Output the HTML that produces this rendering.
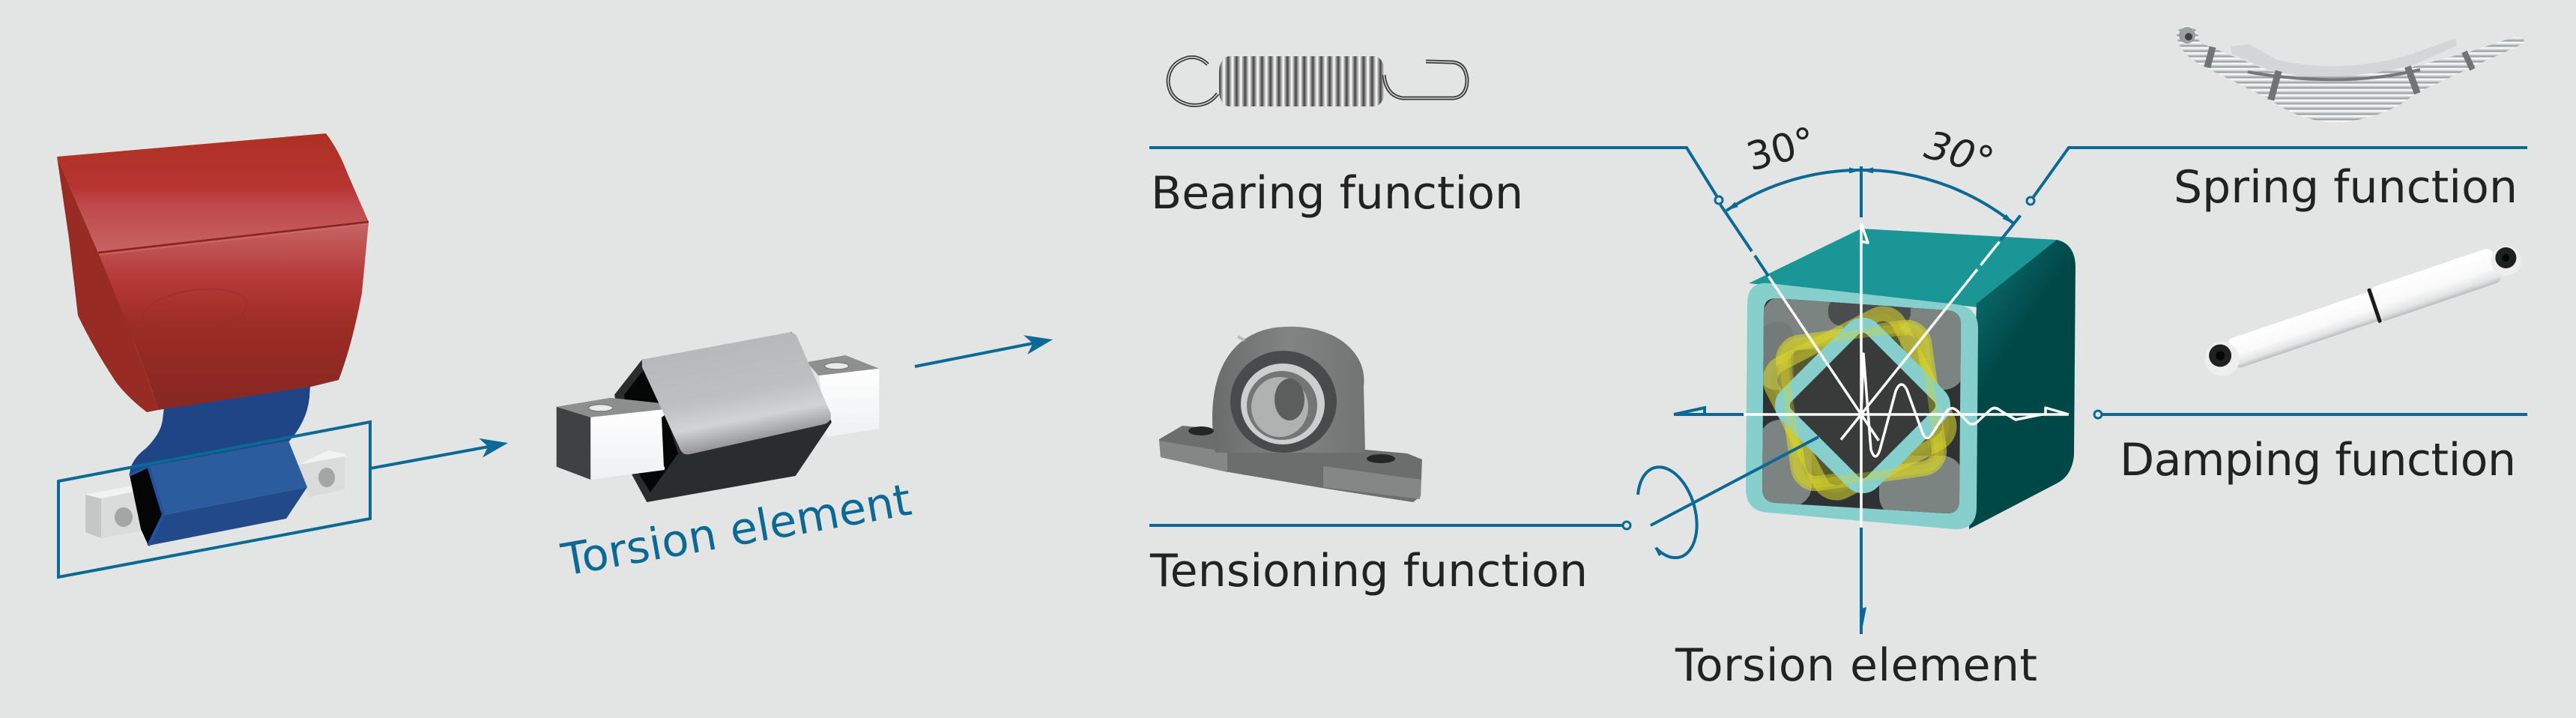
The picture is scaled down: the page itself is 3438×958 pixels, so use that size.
<!DOCTYPE html>
<html><head><meta charset="utf-8"><style>
html,body{margin:0;padding:0;background:#e3e5e4;}
svg{display:block;}
text{font-family:"DejaVu Sans","Liberation Sans",sans-serif;}
</style></head><body>
<svg xmlns="http://www.w3.org/2000/svg" width="3438" height="958" viewBox="0 0 3438 958">
<defs>
<linearGradient id="redTop" x1="0" y1="0" x2="0" y2="1"><stop offset="0" stop-color="#ae3024"/><stop offset="0.45" stop-color="#b83432"/><stop offset="0.6" stop-color="#c0484a"/><stop offset="1" stop-color="#c66464"/></linearGradient>
<linearGradient id="redFront" x1="0" y1="0" x2="0" y2="1"><stop offset="0" stop-color="#c66666"/><stop offset="0.3" stop-color="#b63a38"/><stop offset="0.55" stop-color="#9c2c24"/><stop offset="1" stop-color="#862822"/></linearGradient>
<linearGradient id="sleeveTop" x1="0" y1="0" x2="0.3" y2="1"><stop offset="0" stop-color="#b3b5b6"/><stop offset="0.6" stop-color="#bdbfc0"/><stop offset="0.8" stop-color="#d2d3d4"/><stop offset="1" stop-color="#8e9091"/></linearGradient>
<linearGradient id="whiteFace" x1="0" y1="0" x2="0" y2="1"><stop offset="0" stop-color="#ffffff"/><stop offset="1" stop-color="#eef0f2"/></linearGradient>
<linearGradient id="rightFace" x1="0" y1="0" x2="0.25" y2="0.45"><stop offset="0" stop-color="#1a9494"/><stop offset="0.45" stop-color="#0a6464"/><stop offset="1" stop-color="#004848"/></linearGradient>
<linearGradient id="coilG" x1="0" y1="0" x2="1" y2="0"><stop offset="0" stop-color="#4a4a4a"/><stop offset="0.3" stop-color="#bdbdbd"/><stop offset="0.5" stop-color="#ffffff"/><stop offset="0.75" stop-color="#9a9a9a"/><stop offset="1" stop-color="#3e3e3e"/></linearGradient>
<pattern id="coil" patternUnits="userSpaceOnUse" x="1628" y="70" width="11.3" height="80"><rect width="11.3" height="80" fill="url(#coilG)"/></pattern>
<pattern id="leaf" patternUnits="userSpaceOnUse" width="6" height="7"><rect width="6" height="7" fill="#c9cdce"/><rect y="0" width="6" height="2.5" fill="#f4f5f5"/><rect y="4.5" width="6" height="1.2" fill="#8d9293"/></pattern>
<linearGradient id="shock" x1="0" y1="0" x2="0" y2="1"><stop offset="0" stop-color="#ffffff"/><stop offset="0.55" stop-color="#fafafa"/><stop offset="0.85" stop-color="#e2e3e4"/><stop offset="1" stop-color="#b9bbbc"/></linearGradient>
<linearGradient id="housing" x1="0" y1="0" x2="1" y2="0"><stop offset="0" stop-color="#6a6c6c"/><stop offset="0.5" stop-color="#828484"/><stop offset="1" stop-color="#727474"/></linearGradient>
<clipPath id="inner"><path d="M2372,398 L2599,414 Q2617,415 2617,433 L2615,668 Q2615,686 2597,685 L2370,671 Q2352,670 2352,652 L2354,415 Q2354,397 2372,398 Z"/></clipPath>
</defs>

<rect width="3438" height="958" fill="#e3e5e4"/>

<!-- ================= LEFT: red / blue assembly ================= -->
<polygon points="114,660 135,665 135,718 114,710" fill="#c5c7c7"/>
<polygon points="135,665 208,650 208,705 135,718" fill="#dadbdb"/>
<polygon points="114,660 187,646 208,650 135,665" fill="#f2f2f2"/>
<ellipse cx="165" cy="690" rx="12" ry="13" fill="#a4a6a6"/>
<polygon points="398,620 460,608 460,653 412,663" fill="#dadbdb"/>
<polygon points="398,620 438,601 462,606 460,609" fill="#f2f2f2"/>
<ellipse cx="436" cy="637" rx="11" ry="13" fill="#a4a6a6"/>
<path d="M220,535 L415,500 L413,530 Q410,562 385,590 L198,624 L173,636 Q172,615 195,598 Q215,578 217,560 Z" fill="#1f4587"/>
<polygon points="198,622 385,588 410,650 218,687" fill="#2a5c9e"/>
<polygon points="218,687 410,650 382,692 198,728" fill="#224a8b"/>
<polygon points="173,634 198,622 218,687 198,728 188,706" fill="#050505"/>
<path d="M173,634 L198,622 L218,687 L198,728" fill="none" stroke="#2550a0" stroke-width="4"/>
<path d="M131,337 L492,296 L483,391 Q470,460 452,507 L415,516 L211,547 Q200,510 178,455 Q150,390 131,337 Z" fill="url(#redFront)"/>
<path d="M76,209 L131,337 Q165,420 178,455 Q200,510 211,547 L196,550 Q170,530 155,510 Q125,465 104,421 L92,318 Z" fill="#982b23"/>
<path d="M76,209 L435,178 Q452,200 464,232 L492,296 L131,337 Z" fill="url(#redTop)"/>
<line x1="131" y1="337" x2="492" y2="296" stroke="#8a2320" stroke-width="2.5"/>
<line x1="132" y1="340" x2="492" y2="299" stroke="#d07070" stroke-width="1.5" opacity="0.7"/>
<ellipse cx="260" cy="415" rx="70" ry="28" transform="rotate(-8 260 415)" fill="none" stroke="#9a2c28" stroke-width="2" opacity="0.5"/>
<polygon points="78,642 494,563 494,692 78,770" fill="none" stroke="#0b6996" stroke-width="4"/>
<line x1="494" y1="625" x2="652" y2="596" stroke="#0b6996" stroke-width="4"/>
<polygon points="678,591 644,610.5 651.5,595.9 639.2,584.9" fill="#0b6996"/>

<!-- ================= MIDDLE torsion element ================= -->
<polygon points="1076.7,483.3 1128.3,474 1173.3,491.7 1093,501.7" fill="#8e9090"/>
<ellipse cx="1116.7" cy="488.3" rx="16" ry="4.5" fill="#e9eaea" stroke="#6d6f6f" stroke-width="1"/>
<polygon points="1093,501 1173.3,491.7 1173.3,572 1103,583" fill="url(#whiteFace)"/>
<polygon points="856.7,480 820,526.7 843.3,633.3 863.3,670 1061.7,635 1110,563.3 1056.7,443.3" fill="#2a2d2e"/>
<polygon points="860,492 833,527 850,628 868,657 905,605 884,540" fill="#050606"/>
<polygon points="742.7,542.7 788.3,556.7 788.3,640 742.7,622.7" fill="#3f4243"/>
<polygon points="742.7,542.7 815,530.7 882,538 887,547 788.3,556.7" fill="#8d8f8f"/>
<ellipse cx="801.7" cy="544.3" rx="16" ry="4.5" fill="#eaeaea" stroke="#6d6f6f" stroke-width="1"/>
<polygon points="788.3,556.7 887,546 887,627 788.3,640" fill="url(#whiteFace)"/>
<path d="M883,557 L888,553 L893,618 L886,623 Z" fill="#050606"/>
<path d="M856.7,480 L1050,444 Q1060,442 1064,450 L1108,550 Q1112,562 1100,566 L921,606 Q912,608 908,600 L857,490 Z" fill="url(#sleeveTop)"/>
<text x="754" y="768" transform="rotate(-10 754 768)" font-size="59" fill="#0b6996" textLength="472" lengthAdjust="spacing">Torsion element</text>
<line x1="1221" y1="489" x2="1379" y2="458" stroke="#0b6996" stroke-width="4"/>
<polygon points="1405,453 1371.2,472.9 1378.5,458.2 1366.2,447.3" fill="#0b6996"/>

<!-- ================= RIGHT images ================= -->
<!-- coil spring -->
<path d="M1612,86 Q1600,74 1585,77 Q1560,84 1559,108 Q1560,134 1588,140 Q1612,143 1625,125" fill="none" stroke="#3d3d3d" stroke-width="5"/>
<path d="M1612,86 Q1600,74 1585,77 Q1560,84 1559,108 Q1560,134 1588,140 Q1612,143 1625,125" fill="none" stroke="#d8d8d8" stroke-width="1.5"/>
<rect x="1627" y="75" width="221" height="67" rx="14" ry="20" fill="url(#coil)"/>
<path d="M1847,100 Q1850,128 1872,131 L1940,131 Q1958,129 1958,106 Q1956,84 1938,83 L1903,82" fill="none" stroke="#3d3d3d" stroke-width="5"/>
<path d="M1847,100 Q1850,128 1872,131 L1940,131 Q1958,129 1958,106 Q1956,84 1938,83 L1903,82" fill="none" stroke="#d0d0d0" stroke-width="1.5"/>

<!-- pillow block bearing -->
<path d="M1547,586 L1578,568 L1630,573 L1700,603 L1800,598 L1878,605 L1898,613 L1896,662 L1886,670 L1770,652 L1640,630 L1549,610 Z" fill="#6c6e6e"/>
<polygon points="1547,588 1638,603 1638,630 1549,610" fill="#858787"/>
<polygon points="1766,622 1897,640 1895,666 1766,650" fill="#858787"/>
<path d="M1622,604 C1608,518 1630,448 1702,437 C1776,428 1826,468 1820,515 L1822,604 Z" fill="url(#housing)"/>
<ellipse cx="1713" cy="536" rx="71" ry="68" fill="#484a4b"/>
<ellipse cx="1712" cy="539" rx="56" ry="54" fill="#cdcfcf"/>
<ellipse cx="1711" cy="541" rx="47" ry="46" fill="#747676"/>
<ellipse cx="1708" cy="543" rx="38" ry="40" fill="#b0b2b2"/>
<ellipse cx="1721" cy="533" rx="20" ry="28" fill="#5c5e5e"/>
<ellipse cx="1603" cy="575" rx="17" ry="6" fill="#242626"/>
<ellipse cx="1843" cy="612" rx="19" ry="6" fill="#242626"/>
<line x1="1652" y1="449" x2="1661" y2="454" stroke="#bbbbbb" stroke-width="4"/>

<!-- leaf spring -->
<path d="M2905,45 C2908,32 2930,31 2933,45 L2936,57 L3030,95 Q3125,104 3217,90 L3293,70 L3360,48 L3369,51 L3368,58 L3307,86 L3223,125 Q3190,155 3123,164 Q3070,163 3030,133 L2940,88 Q2906,70 2905,45 Z" fill="url(#leaf)"/>
<path d="M2977,62 L3002,59 L3040,80 Q3125,100 3220,72 L3277,51 L3279,61 L3222,86 Q3125,112 3035,96 L2979,72 Z" fill="#d3d6d7"/>
<path d="M3000,96 Q3125,118 3230,93" fill="none" stroke="#737879" stroke-width="4"/>
<rect x="3032" y="94" width="9" height="40" fill="#6f7475" transform="rotate(15 3036 112)"/>
<rect x="3215" y="88" width="9" height="38" fill="#6f7475" transform="rotate(-20 3219 106)"/>
<rect x="2945" y="62" width="9" height="28" fill="#6f7475" transform="rotate(15 2949 76)"/>
<rect x="3290" y="68" width="8" height="26" fill="#6f7475" transform="rotate(-25 3294 80)"/>
<circle cx="2919" cy="47" r="11" fill="#9aa0a0"/>
<circle cx="2921" cy="49" r="5" fill="#3c4040"/>

<!-- shock absorber -->
<g transform="translate(2965,477) rotate(-18.75)">
<rect x="14" y="-20" width="204" height="41" rx="7" fill="url(#shock)"/>
<rect x="216" y="-24" width="172" height="48" rx="9" fill="url(#shock)"/>
<rect x="213" y="-24" width="5" height="48" rx="2" fill="#1c1c1c"/>
<circle cx="0" cy="2" r="23" fill="#eeeeee"/>
<circle cx="-1" cy="-3" r="15" fill="#1f2121"/>
<circle cx="-1" cy="-3" r="6" fill="#050505"/>
<circle cx="401" cy="0" r="20" fill="#eeeeee"/>
<circle cx="402" cy="-4" r="14" fill="#1f2121"/>
<circle cx="402" cy="-4" r="5" fill="#050505"/>
</g>

<!-- ================= CENTER cube ================= -->
<path d="M2334,378 L2484,305 L2745,320 Q2768,325 2770,352 L2640,410 Z" fill="#1a9696"/>
<path d="M2638,405 L2745,320 Q2768,325 2770,355 L2768,608 Q2765,635 2745,645 L2628,706 Z" fill="url(#rightFace)"/>
<path d="M2362,378 L2610,406 Q2640,409 2640,439 L2638,678 Q2637,708 2607,706 L2360,684 Q2330,682 2330,652 L2332,405 Q2332,375 2362,378 Z" fill="#87cfcd"/>
<path d="M2372,398 L2599,414 Q2617,415 2617,433 L2615,668 Q2615,686 2597,685 L2370,671 Q2352,670 2352,652 L2354,415 Q2354,397 2372,398 Z" fill="#2f3232"/>
<g clip-path="url(#inner)">
<rect x="2352" y="395" width="108" height="72" rx="28" fill="#7c8482"/>
<rect x="2350" y="430" width="44" height="90" rx="18" fill="#737b79"/>
<rect x="2536" y="408" width="86" height="112" rx="28" fill="#7c8482"/>
<rect x="2348" y="560" width="70" height="116" rx="28" fill="#7c8482"/>
<rect x="2508" y="608" width="112" height="82" rx="28" fill="#7c8482"/>
<rect x="2440" y="395" width="110" height="40" rx="18" fill="#4a4d4d"/>
<g transform="rotate(-8 2484 541)"><rect x="2389" y="446" width="190" height="190" rx="24" fill="#6f6d2e" fill-opacity="0.45" stroke="#d8d42c" stroke-width="20" stroke-opacity="0.6"/></g>
<g transform="rotate(-27 2482 538)"><rect x="2387" y="443" width="190" height="190" rx="24" fill="#6f6d2e" fill-opacity="0.35" stroke="#dcd830" stroke-width="20" stroke-opacity="0.55"/></g>
<g transform="rotate(45 2486 541)"><rect x="2405" y="460" width="162" height="162" rx="18" fill="#393b3b" stroke="#86cfcd" stroke-width="20"/></g>
<g transform="rotate(-8 2484 541)"><rect x="2389" y="446" width="190" height="190" rx="24" fill="none" stroke="#d8d42c" stroke-width="12" stroke-opacity="0.35"/></g>
</g>

<!-- white lines -->
<g stroke="#ffffff" stroke-width="3.5" fill="none" stroke-linejoin="round">
<line x1="2484" y1="298" x2="2484" y2="703"/>
<polyline points="2484,298 2493,324 2484,322"/>
<line x1="2327" y1="553" x2="2761" y2="553"/>
<polyline points="2730,553 2730,544 2761,553"/>
<line x1="2360.3" y1="368.5" x2="2507.4" y2="587.9"/>
<line x1="2668.4" y1="322.6" x2="2643.4" y2="353.8"/>
<line x1="2639" y1="359.3" x2="2457" y2="586.6"/>
<path d="M2484,553 L2487,472 L2497,600 Q2503,618 2509,600 L2530,522 Q2537,505 2545,520 L2566,578 Q2571,590 2578,580 L2596,552 Q2603,540 2612,548 L2625,562 Q2632,570 2640,562 L2655,548 Q2662,541 2670,548 L2690,560 L2725,553"/>
</g>

<!-- blue dimension lines -->
<g stroke="#0b6996" stroke-width="4" fill="none">
<line x1="2484" y1="222" x2="2484" y2="290"/>
<line x1="2484" y1="704" x2="2484" y2="846"/>
<line x1="2234" y1="553" x2="2327" y2="553"/>
<polyline points="2275,553 2275,544 2234,553"/>
<path d="M2304,281 A326,326 0 0 1 2688,298.6"/>
<line x1="2296" y1="273" x2="2338" y2="335.3"/>
<line x1="2342" y1="341" x2="2360.3" y2="368.5"/>
<line x1="2696.5" y1="287.5" x2="2670.3" y2="320.3"/>
<polyline points="1534,197 2251,197 2292,263"/>
<polyline points="2713,264 2761,197 3373,197"/>
<line x1="2805" y1="553" x2="3373" y2="553"/>
<line x1="1534" y1="701" x2="2166" y2="701"/>
<line x1="2203" y1="701" x2="2427" y2="583"/>
<path d="M2186,660 A37,62 -16 1 1 2210,731"/>
</g>
<polygon points="2484,846 2491,810 2484,812" fill="#0b6996"/>
<polygon points="2483,227.4 2468,223.4 2468,231.4" fill="#0b6996"/>
<polygon points="2485,227.4 2500,223.4 2500,231.4" fill="#0b6996"/>
<polygon points="2304,281 2319.8,276 2315.4,269.4" fill="#0b6996"/>
<polygon points="2687.8,298.6 2672.6,292 2677.6,285.8" fill="#0b6996"/>
<polygon points="2208,730 2214,742 2220,738" fill="#0b6996"/>
<g fill="#e3e5e4" stroke="#0b6996" stroke-width="3">
<circle cx="2294" cy="267" r="5"/>
<circle cx="2710" cy="268" r="5"/>
<circle cx="2800" cy="553" r="5"/>
<circle cx="2171" cy="701" r="5"/>
</g>

<text x="2337" y="228" transform="rotate(-15 2337 228)" font-size="52" fill="#222">30°</text>
<text x="2566" y="209" transform="rotate(16 2566 209)" font-size="52" font-style="italic" fill="#222">30°</text>

<g font-size="60" fill="#222">
<text x="1536" y="278" textLength="497" lengthAdjust="spacing">Bearing function</text>
<text x="2901" y="270" textLength="459" lengthAdjust="spacing">Spring function</text>
<text x="2829" y="634" textLength="529" lengthAdjust="spacing">Damping function</text>
<text x="1535" y="782" textLength="584" lengthAdjust="spacing">Tensioning function</text>
<text x="2236" y="908" textLength="483" lengthAdjust="spacing">Torsion element</text>
</g>
</svg>
</body></html>
